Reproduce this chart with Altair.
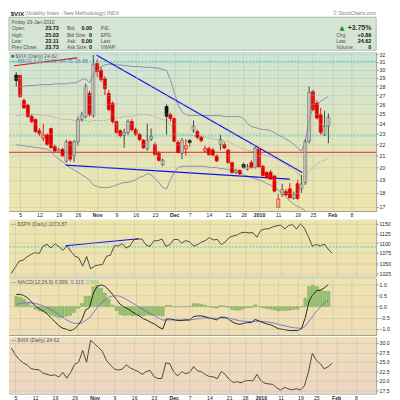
import altair as alt
import pandas as pd
import numpy as np

FONT = "Liberation Sans"

# ---------------- x categories: trading days ----------------
holidays = ["2009-11-26", "2009-12-25", "2010-01-01", "2010-01-18"]
trading_days = [d.strftime("%Y-%m-%d") for d in pd.bdate_range("2009-10-02", "2010-01-29")
                if d.strftime("%Y-%m-%d") not in holidays]

tick_pos = [1, 6, 11, 16, 21, 26, 31, 36, 41, 45, 50, 55, 59, 63, 68, 73, 77, 82, 87]
tick_labels = ["5", "12", "19", "26", "Nov", "9", "16", "23", "Dec", "7", "14", "21", "28",
               "2010", "11", "19", "25", "Feb", "8"]
bold_labels = ["Nov", "Dec", "2010", "Feb"]

# ---------------- $VIX daily OHLC ----------------
vix_open = [29.35, 29.30, 26.40, 25.90, 24.70, 24.40, 23.30, 22.60, 22.90, 23.50,
            21.80, 21.40, 21.56, 20.55, 22.25, 21.00, 22.25, 24.40, 24.70, 27.20,
            24.80, 30.80, 29.96, 28.90, 27.20, 26.10, 24.20, 23.30, 22.85, 23.10,
            24.20, 23.40, 22.93, 22.40, 21.60, 22.50, 22.00, 21.20, 20.25, 25.76,
            24.90, 24.50, 22.20, 21.20, 21.60, 22.37, 23.30, 23.20, 22.67, 21.41,
            21.63, 21.51, 20.98, 22.00, 22.00, 21.50, 20.40, 19.58, 19.75, 20.26,
            19.85, 20.40, 20.00, 21.60, 20.10, 19.60, 19.60, 19.30, 16.95, 17.90,
            18.10, 18.30, 17.60, 18.70, 18.30, 18.80, 22.30, 27.40, 26.10, 24.90,
            22.90, 23.73]
vix_high = [29.70, 29.40, 26.60, 26.05, 24.95, 24.50, 23.55, 24.00, 23.05, 23.60,
            22.00, 21.70, 21.70, 22.45, 22.40, 22.40, 24.70, 25.20, 28.30, 27.50,
            31.90, 31.30, 30.30, 29.20, 27.60, 26.30, 24.30, 23.40, 23.50, 24.40,
            24.45, 23.60, 23.10, 22.50, 24.00, 23.50, 22.20, 21.40, 20.75, 26.00,
            25.10, 24.60, 22.40, 22.60, 22.50, 22.50, 24.30, 23.40, 22.80, 21.90,
            21.80, 21.70, 21.10, 22.90, 22.20, 21.60, 20.50, 19.90, 19.85, 20.40,
            20.30, 20.60, 21.80, 21.70, 20.20, 19.70, 19.80, 19.40, 17.90, 18.70,
            18.30, 18.75, 18.10, 19.00, 19.40, 22.50, 28.00, 27.60, 26.40, 25.60,
            25.30, 25.03]
vix_low = [28.00, 26.70, 25.50, 24.60, 24.05, 23.10, 22.80, 22.30, 21.90, 21.60,
           21.30, 21.25, 20.90, 20.40, 20.50, 20.45, 21.90, 24.20, 24.50, 24.70,
           24.60, 29.10, 28.50, 27.00, 25.30, 24.00, 23.00, 22.65, 21.70, 22.90,
           23.20, 22.80, 22.30, 21.60, 21.45, 22.30, 21.00, 20.50, 20.10, 22.90,
           24.20, 22.20, 21.20, 20.70, 21.00, 21.80, 23.10, 22.50, 22.20, 21.30,
           21.00, 20.95, 20.45, 21.50, 21.60, 20.30, 19.50, 19.45, 19.40, 19.90,
           19.75, 19.90, 19.90, 20.00, 19.30, 19.10, 19.00, 18.05, 16.90, 17.70,
           17.80, 17.60, 17.50, 17.50, 18.00, 18.60, 22.10, 25.30, 24.40, 22.90,
           22.80, 22.11]
vix_close = [28.68, 26.84, 25.61, 24.70, 24.20, 23.20, 23.00, 22.90, 22.00, 21.72,
             21.41, 21.56, 20.98, 22.25, 20.70, 22.25, 24.40, 24.90, 28.00, 24.90,
             30.69, 29.78, 28.81, 27.72, 25.43, 24.19, 23.11, 22.84, 23.10, 24.20,
             23.40, 22.93, 22.45, 21.70, 22.40, 22.75, 21.10, 20.60, 20.62, 24.74,
             24.51, 22.30, 21.30, 22.40, 21.90, 22.17, 23.73, 22.67, 22.37, 21.63,
             21.10, 21.05, 20.55, 22.46, 21.68, 20.40, 19.58, 19.77, 19.47, 19.99,
             20.07, 20.01, 21.68, 20.04, 19.35, 19.16, 19.06, 18.13, 17.55, 18.25,
             17.85, 17.63, 17.91, 17.58, 18.68, 22.27, 27.31, 25.41, 24.55, 23.14,
             23.73, 24.62]
prev_close_before = 28.27

# ---------------- Bollinger Bands (20,2) ----------------
bb_upper = [28.0, 28.0, 28.0, 28.1, 28.1, 28.1, 28.2, 28.2, 28.2, 28.2,
            28.3, 28.3, 28.3, 28.3, 28.4, 28.4, 28.5, 28.8, 28.9, 28.4,
            29.5, 30.1, 30.4, 30.6, 30.7, 30.7, 30.6, 30.6, 30.5, 30.5,
            30.4, 30.4, 30.4, 30.3, 30.3, 30.3, 30.2, 30.2, 30.0, 29.9,
            28.8, 27.3, 25.9, 25.2, 24.9, 24.8, 24.8, 24.8, 24.8, 24.8,
            24.8, 24.8, 24.8, 24.8, 24.7, 24.7, 24.7, 24.7, 24.7, 24.5,
            24.0, 23.7, 23.6, 23.5, 23.4, 23.4, 23.3, 23.1, 22.9, 22.7,
            22.5, 22.3, 22.0, 21.7, 21.4, 22.3, 24.4, 25.6, 26.0, 26.3,
            26.6, 26.85]
bb_middle = [24.8, 24.8, 24.9, 24.9, 24.9, 24.9, 24.9, 24.8, 24.8, 24.7,
             24.6, 24.5, 24.4, 24.4, 24.4, 24.3, 24.3, 24.3, 24.3, 24.2,
             24.3, 24.3, 24.3, 24.3, 24.4, 24.5, 24.6, 24.6, 24.7, 24.7,
             24.7, 24.8, 24.9, 24.9, 24.9, 24.8, 24.7, 24.5, 24.4, 24.3,
             23.9, 23.3, 23.0, 22.9, 22.9, 22.9, 22.8, 22.8, 22.8, 22.7,
             22.6, 22.5, 22.5, 22.4, 22.3, 22.3, 22.1, 21.9, 21.7, 21.6,
             21.5, 21.4, 21.3, 21.2, 21.1, 21.0, 20.9, 20.8, 20.6, 20.4,
             20.2, 20.0, 19.8, 19.5, 19.3, 19.2, 19.7, 20.0, 20.3, 20.5,
             20.6, 20.8]
bb_lower = [22.0, 21.9, 21.9, 21.8, 21.8, 21.7, 21.7, 21.6, 21.6, 21.4,
            21.0, 20.7, 20.5, 20.2, 20.0, 19.8, 19.6, 19.4, 19.2, 19.0,
            18.6, 18.5, 18.4, 18.4, 18.4, 18.5, 18.6, 18.7, 18.8, 18.8,
            18.9, 19.0, 19.2, 19.3, 19.5, 19.4, 19.1, 18.8, 18.4, 18.3,
            19.0, 19.6, 20.0, 20.1, 20.1, 20.1, 20.1, 20.1, 20.1, 20.1,
            20.0, 20.0, 20.0, 19.9, 19.9, 19.8, 19.8, 19.7, 19.6, 19.4,
            19.3, 19.2, 19.1, 19.0, 18.9, 18.7, 18.6, 18.4, 18.2, 18.0,
            17.7, 17.4, 17.2, 17.0, 16.9, 16.7, 16.2, 15.9, 15.8, 15.7,
            15.6, 15.6]

# ---------------- $SPX daily close ----------------
spx_close = [1025.21, 1040.46, 1054.72, 1057.58, 1065.48, 1071.49, 1076.19, 1073.19, 1092.02, 1096.56,
             1087.68, 1097.91, 1091.06, 1081.40, 1092.91, 1079.60, 1066.95, 1063.41, 1042.63, 1066.11,
             1036.19, 1042.88, 1045.41, 1046.50, 1066.63, 1069.30, 1093.08, 1093.01, 1098.51, 1087.24,
             1093.48, 1109.30, 1110.32, 1109.80, 1094.90, 1091.38, 1106.24, 1105.65, 1110.63, 1091.49,
             1095.63, 1108.86, 1109.24, 1099.92, 1105.98, 1103.25, 1091.94, 1095.95, 1102.35, 1106.41,
             1114.11, 1107.93, 1109.18, 1096.08, 1102.47, 1114.05, 1118.02, 1120.59, 1126.48, 1127.78,
             1126.20, 1126.42, 1115.10, 1132.99, 1136.52, 1137.14, 1141.69, 1144.98, 1146.98, 1136.22,
             1145.68, 1148.46, 1136.03, 1150.23, 1138.04, 1116.48, 1091.76, 1096.78, 1092.17, 1097.50,
             1084.53, 1073.87]

# ---------------- MACD(12,26,9) ----------------
macd_line = [0.55, 0.55, 0.50, 0.38, 0.20, 0.02, -0.10, -0.20, -0.33, -0.50,
             -0.68, -0.85, -0.97, -1.02, -1.08, -1.02, -0.85, -0.60, -0.15, -0.05,
             0.60, 0.92, 0.98, 0.92, 0.75, 0.55, 0.32, 0.10, -0.02, -0.10,
             -0.22, -0.33, -0.43, -0.55, -0.62, -0.72, -0.80, -0.92, -1.02, -0.55,
             -0.55, -0.60, -0.62, -0.62, -0.60, -0.60, -0.45, -0.42, -0.42, -0.45,
             -0.52, -0.55, -0.60, -0.48, -0.48, -0.55, -0.68, -0.76, -0.80, -0.76,
             -0.72, -0.72, -0.58, -0.65, -0.72, -0.78, -0.82, -0.90, -1.00, -1.02,
             -1.05, -1.08, -1.08, -1.08, -1.00, -0.50, 0.25, 0.55, 0.72, 0.75,
             0.85, 0.999]
macd_signal = [0.10, 0.14, 0.17, 0.18, 0.17, 0.14, 0.09, 0.03, -0.04, -0.13,
               -0.24, -0.36, -0.48, -0.59, -0.69, -0.75, -0.77, -0.74, -0.62, -0.51,
               -0.29, -0.05, 0.15, 0.31, 0.42, 0.48, 0.50, 0.46, 0.38, 0.28,
               0.18, 0.07, -0.03, -0.14, -0.24, -0.33, -0.42, -0.52, -0.61, -0.60,
               -0.60, -0.60, -0.61, -0.61, -0.61, -0.61, -0.58, -0.55, -0.53, -0.51,
               -0.51, -0.52, -0.53, -0.52, -0.51, -0.52, -0.55, -0.60, -0.64, -0.66,
               -0.67, -0.68, -0.66, -0.66, -0.67, -0.69, -0.71, -0.75, -0.80, -0.84,
               -0.88, -0.92, -0.95, -0.97, -0.98, -0.88, -0.65, -0.41, -0.19, 0.00,
               0.16, 0.315]
macd_hist = [0.45, 0.41, 0.33, 0.20, 0.03, -0.12, -0.19, -0.23, -0.29, -0.37,
             -0.44, -0.49, -0.49, -0.43, -0.39, -0.27, -0.08, 0.14, 0.47, 0.46,
             0.89, 0.97, 0.83, 0.61, 0.33, 0.07, -0.18, -0.36, -0.40, -0.38,
             -0.40, -0.40, -0.40, -0.41, -0.38, -0.39, -0.38, -0.40, -0.41, 0.05,
             0.05, 0.00, -0.01, -0.01, 0.01, 0.01, 0.13, 0.13, 0.11, 0.06,
             -0.01, -0.03, -0.07, 0.04, 0.03, -0.03, -0.13, -0.16, -0.16, -0.10,
             -0.05, -0.04, 0.08, 0.01, -0.05, -0.09, -0.11, -0.15, -0.20, -0.18,
             -0.17, -0.16, -0.13, -0.11, -0.02, 0.38, 0.90, 0.96, 0.91, 0.75,
             0.69, 0.684]

# ---------------- annotation lines ----------------
main_cyan_levels = [31.05, 22.8]
main_red_levels = [21.3]
spx_cyan_levels = [1090]
main_blue_trends = {"seg": ["a", "a", "b", "b"], "idx": [20.8, 74.2, 12.8, 71.0], "val": [31.9, 19.58, 20.2, 19.05]}
main_red_trend = {"idx": [-0.6, 15.8], "val": [30.5, 31.5]}
spx_blue_trend = {"idx": [13.7, 32.1], "val": [1093, 1111]}

# ---------------- texts ----------------
title_symbol = "$VIX"
title_rest = "(Volatility Index - New Methodology) INDX"
copyright_text = "© StockCharts.com"
header_date = "Friday  29-Jan-2010"
col1_labels = ["Open:", "High:", "Low:", "Prev Close:"]
col1_values = ["23.73", "25.03", "22.11", "23.73"]
col2_labels = ["Bid:", "Bid Size:", "Ask:", "Ask Size:"]
col2_values = ["0.00", "0", "0.00", "0"]
col3_labels = ["P/E:", "EPS:", "Last:", "VWAP:"]
right_labels = ["Chg:", "Last:", "Volume:"]
right_values = ["+0.89", "24.62", "0"]
pct_change = "+3.75%"
main_legend = "■ $VIX (Daily) 24.62"
bb_legend = "— BB(20,2.0) 20.80, 14.75, 26.85"
spx_legend = "— $SPX (Daily) 1073.87"
macd_legend = ["— MACD(12,26,9) 0.999,", "0.315,", "0.684"]
vix_legend = "— $VIX (Daily) 24.62"

# ---------------- layout / style ----------------
W = 370
H_HEAD = 41
H_MAIN = 160
H_SUB = 57
GRID = "#aab4aa"
BORDER = "#93a293"
TXT = "#555555"
LEG = 5.2

n = len(vix_close)
idx = list(range(n))
dummy = pd.DataFrame({"k": [0]})

XS = alt.Scale(domain=[-0.6, 92.1], nice=False, zero=False)
label_expr = ("[" + ",".join("'%s'" % t for t in tick_labels) + "][indexof(["
              + ",".join(str(p) for p in tick_pos) + "], datum.value)]")
bold_pos = [p for p, t in zip(tick_pos, tick_labels) if t in bold_labels]
bold_test = "indexof([" + ",".join(str(p) for p in bold_pos) + "], datum.value) >= 0"


def xaxis(show):
    kw = dict(values=tick_pos, grid=True, gridColor=GRID, gridWidth=0.6, gridOpacity=0.6,
              domain=False, ticks=False, title=None, zindex=1, labelFlush=False, labelOverlap=False)
    if show:
        kw.update(labels=True, labelExpr=label_expr, labelFontSize=5.2, labelFont=FONT,
                  labelColor="#222222", labelPadding=2,
                  labelFontWeight={"condition": {"test": bold_test, "value": "bold"}, "value": "normal"})
    else:
        kw.update(labels=False)
    return alt.Axis(**kw)


def yaxis(values, expr):
    return alt.Axis(orient="right", values=values, grid=True, gridColor=GRID, gridWidth=0.6,
                    gridOpacity=0.6, domain=False, ticks=True, tickSize=2, tickColor="#8a968a",
                    labelFontSize=5.2, labelPadding=1, labelFont=FONT, labelColor="#222222",
                    title=None, labelFlush=False, labelOverlap=False, zindex=1, labelExpr=expr)


def bg(top, bottom, h):
    grad = alt.Gradient(gradient="linear",
                        stops=[alt.GradientStop(color=top, offset=0), alt.GradientStop(color=bottom, offset=1)],
                        x1=0, x2=0, y1=0, y2=1)
    return alt.Chart(dummy).mark_rect(fill=grad, strokeWidth=0).encode(
        x=alt.value(0), x2=alt.value(W), y=alt.value(0), y2=alt.value(h))


def label(text, x, y, color=TXT, size=LEG, weight="normal"):
    return alt.Chart(pd.DataFrame({"t": [text]})).mark_text(
        align="left", baseline="middle", fontSize=size, font=FONT, color=color, fontWeight=weight
    ).encode(x=alt.value(x), y=alt.value(y), text="t:N")


# ================= header =================
rows_y = [12.2, 18.7, 25.2, 31.7, 38.0]
HX = alt.Scale(domain=[0, W], range=[0, W])
HY = alt.Scale(domain=[0, H_HEAD], range=[0, H_HEAD])
head_left = pd.DataFrame({
    "text": [header_date] + col1_labels + col2_labels + col3_labels + right_labels,
    "px": [2.7] + [2.7] * 4 + [58.4] * 4 + [92.4] * 4 + [329.7] * 3,
    "py": [rows_y[0]] + rows_y[1:] * 3 + rows_y[2:],
})
head_vals = pd.DataFrame({
    "text": col1_values + col2_values + right_values,
    "px": [50.2] * 4 + [83.7] * 4 + [365.2] * 3,
    "py": rows_y[1:] * 2 + rows_y[2:],
})
box = alt.Chart(dummy).mark_rect(fill="#d5e7d4", stroke="#a9bca9", strokeWidth=1).encode(
    x=alt.value(0), x2=alt.value(W), y=alt.value(7.8), y2=alt.value(H_HEAD))
hl = alt.Chart(head_left).mark_text(align="left", baseline="middle", fontSize=5.0, font=FONT,
                                    color="#505050").encode(
    x=alt.X("px:Q", scale=HX, axis=None), y=alt.Y("py:Q", scale=HY, axis=None), text="text:N")
hv = alt.Chart(head_vals).mark_text(align="right", baseline="middle", fontSize=5.5, font=FONT,
                                    fontWeight="bold", color="#111111").encode(
    x=alt.X("px:Q", scale=HX, axis=None), y=alt.Y("py:Q", scale=HY, axis=None), text="text:N")
t1 = alt.Chart(pd.DataFrame({"t": [title_symbol]})).mark_text(
    align="left", baseline="alphabetic", fontSize=6.2, font=FONT, fontWeight="bold", color="#222222"
).encode(x=alt.value(1.7), y=alt.value(6.2), text="t:N")
t2 = alt.Chart(pd.DataFrame({"t": [title_rest]})).mark_text(
    align="left", baseline="alphabetic", fontSize=5.1, font=FONT, color="#808080"
).encode(x=alt.value(16.2), y=alt.value(6.0), text="t:N")
t3 = alt.Chart(pd.DataFrame({"t": [copyright_text]})).mark_text(
    align="right", baseline="alphabetic", fontSize=5.0, font=FONT, color="#808080"
).encode(x=alt.value(W), y=alt.value(6.0), text="t:N")
tri = alt.Chart(pd.DataFrame({"t": ["▲"]})).mark_text(
    align="center", baseline="middle", fontSize=6.5, font="DejaVu Sans", color="#2a8a2a"
).encode(x=alt.value(335.5), y=alt.value(rows_y[1]), text="t:N")
pct = alt.Chart(pd.DataFrame({"t": [pct_change]})).mark_text(
    align="right", baseline="middle", fontSize=7.0, font=FONT, fontWeight="bold", color="#333333"
).encode(x=alt.value(365.2), y=alt.value(rows_y[1]), text="t:N")
header = alt.layer(box, t1, t2, t3, hl, hv, tri, pct).properties(
    width=W, height=H_HEAD, view=alt.ViewBackground(stroke=None))

# ================= main candlestick panel =================
prev = [prev_close_before] + vix_close[:-1]
cdf = pd.DataFrame({"idx": idx, "date": trading_days, "open": vix_open, "high": vix_high,
                    "low": vix_low, "close": vix_close})
up_day = np.array([c >= p for c, p in zip(vix_close, prev)])
hollow = np.array([c > o for o, c in zip(vix_open, vix_close)])
cdf["wick_col"] = np.where(up_day, "#333333", "#e00000")
cdf["body_fill"] = np.where(hollow, "#ffffff", np.where(up_day, "#111111", "#e00000"))
cdf["body_stroke"] = np.where(up_day, np.where(hollow, "#6a6a6a", "#111111"), "#e00000")
cdf["body_fo"] = np.where(hollow, 0.45, 1.0)

YM_S = alt.Scale(type="log", domain=[16.7, 32.26], nice=False)
YM_AX = yaxis(list(range(17, 33)), "format(datum.value, 'd')")


def XM(f):
    return alt.X(f, type="quantitative", scale=XS, axis=xaxis(True))


def YM(f):
    return alt.Y(f, type="quantitative", scale=YM_S, axis=YM_AX)


bbdf = pd.DataFrame({"idx": idx, "upper": bb_upper, "middle": bb_middle, "lower": bb_lower})
m_bg = bg("#cfe4d6", "#f0e5ab", H_MAIN)
m_cyan = alt.Chart(pd.DataFrame({"level": main_cyan_levels})).mark_rule(
    color="#2adada", strokeDash=[2, 1.5], strokeWidth=1).encode(y=YM("level"))
m_red = alt.Chart(pd.DataFrame({"level": main_red_levels})).mark_rule(
    color="#ee2222", strokeWidth=1).encode(y=YM("level"))
m_up = alt.Chart(bbdf).mark_line(color="#7579aa", strokeWidth=0.8, clip=True).encode(x=XM("idx"), y=YM("upper"))
m_lo = alt.Chart(bbdf).mark_line(color="#7579aa", strokeWidth=0.8, clip=True).encode(x=XM("idx"), y=YM("lower"))
m_mid = alt.Chart(bbdf).mark_line(color="#858585", strokeWidth=0.8, strokeDash=[1, 1.3], clip=True).encode(
    x=XM("idx"), y=YM("middle"))
m_blue = alt.Chart(pd.DataFrame(main_blue_trends)).mark_line(color="#1010ee", strokeWidth=1.2, clip=True).encode(
    x=XM("idx"), y=YM("val"), detail="seg:N")
m_redt = alt.Chart(pd.DataFrame(main_red_trend)).mark_line(color="#ee1111", strokeWidth=1.2, clip=True).encode(
    x=XM("idx"), y=YM("val"))
m_wick = alt.Chart(cdf).mark_rule(strokeWidth=0.9).encode(
    x=XM("idx"), y=YM("low"), y2=alt.Y2("high"), color=alt.Color("wick_col:N", scale=None))
m_body = alt.Chart(cdf).mark_bar(size=3, strokeWidth=0.7).encode(
    x=XM("idx"), y=YM("open"), y2=alt.Y2("close"),
    fill=alt.Fill("body_fill:N", scale=None), stroke=alt.Stroke("body_stroke:N", scale=None),
    fillOpacity=alt.FillOpacity("body_fo:Q", scale=None))
m_l1 = label(main_legend, 2, 3.8, color="#555555")
m_l2 = label(bb_legend, 2, 8.8, color="#5a86b8")
main = alt.layer(m_bg, m_cyan, m_red, m_up, m_lo, m_mid, m_blue, m_redt, m_wick, m_body, m_l1, m_l2).properties(
    width=W, height=H_MAIN)

# ================= SPX panel =================
YS_S = alt.Scale(type="log", domain=[1018, 1160.6], nice=False)
YS_AX = yaxis([1025, 1050, 1075, 1100, 1125, 1150], "format(datum.value, 'd')")


def XN(f):
    return alt.X(f, type="quantitative", scale=XS, axis=xaxis(False))


def YS(f):
    return alt.Y(f, type="quantitative", scale=YS_S, axis=YS_AX)


sdf = pd.DataFrame({"idx": idx, "spx": spx_close})
s_bg = bg("#eee4ac", "#efe2b0", H_SUB)
s_cyan = alt.Chart(pd.DataFrame({"level": spx_cyan_levels})).mark_rule(
    color="#2adada", strokeDash=[2, 1.5], strokeWidth=1).encode(y=YS("level"))
s_tr = alt.Chart(pd.DataFrame(spx_blue_trend)).mark_line(color="#1010ee", strokeWidth=1.2).encode(
    x=XN("idx"), y=YS("val"))
s_line = alt.Chart(sdf).mark_line(color="#222222", strokeWidth=0.8).encode(x=XN("idx"), y=YS("spx"))
s_l = label(spx_legend, 2, 4.2)
spx = alt.layer(s_bg, s_cyan, s_tr, s_line, s_l).properties(width=W, height=H_SUB)

# ================= MACD panel =================
YC_S = alt.Scale(domain=[-1.28, 1.27], nice=False, zero=False)
YC_AX = yaxis([-1.0, -0.5, 0.0, 0.5, 1.0], "format(datum.value, '.1f')")


def YC(f):
    return alt.Y(f, type="quantitative", scale=YC_S, axis=YC_AX)


mdf = pd.DataFrame({"idx": idx, "macd": macd_line, "signal": macd_signal, "hist": macd_hist})
c_bg = bg("#efe2b0", "#f0deb6", H_SUB)
c_hist = alt.Chart(mdf).mark_bar(size=3, color="#94c46c", stroke="#6c9a48", strokeWidth=0.4).encode(
    x=XN("idx"), y=YC("hist"), y2=alt.datum(0))
c_sig = alt.Chart(mdf).mark_line(color="#6a58d8", strokeWidth=0.8).encode(x=XN("idx"), y=YC("signal"))
c_macd = alt.Chart(mdf).mark_line(color="#111111", strokeWidth=0.9).encode(x=XN("idx"), y=YC("macd"))
c_l1 = label(macd_legend[0], 2, 3.8)
c_l2 = label(macd_legend[1], 62.2, 3.8, color="#6a58d8")
c_l3 = label(macd_legend[2], 77.4, 3.8, color="#7cbf5c")
macd = alt.layer(c_bg, c_hist, c_sig, c_macd, c_l1, c_l2, c_l3).properties(width=W, height=H_SUB)

# ================= VIX close panel =================
YV_S = alt.Scale(domain=[16.64, 31.57], nice=False, zero=False)
YV_AX = yaxis([17.5, 20.0, 22.5, 25.0, 27.5, 30.0], "format(datum.value, '.1f')")


def YV(f):
    return alt.Y(f, type="quantitative", scale=YV_S, axis=YV_AX)


vdf = pd.DataFrame({"idx": idx, "vix": vix_close})
v_bg = bg("#f0ddbb", "#efd7c2", H_SUB)
v_line = alt.Chart(vdf).mark_line(color="#222222", strokeWidth=0.8).encode(x=XM("idx"), y=YV("vix"))
v_l = label(vix_legend, 2, 3.4)
vixp = alt.layer(v_bg, v_line, v_l).properties(width=W, height=H_SUB)

chart = alt.vconcat(header, main, spx, macd, vixp, spacing=0).properties(
    padding=0, background="#ffffff"
).configure_view(stroke=BORDER, strokeWidth=1).configure_axis(labelFont=FONT)

chart.save("out.html", embed_options={"renderer": "svg", "actions": False})
